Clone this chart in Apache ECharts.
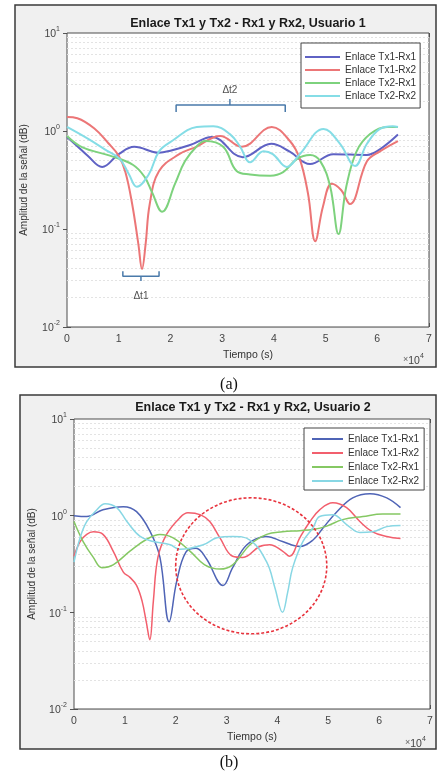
<!DOCTYPE html>
<html>
<head>
<meta charset="utf-8">
<script src="https://cdn.jsdelivr.net/npm/echarts@6/dist/echarts.min.js"></script>
<style>
html,body{margin:0;padding:0;background:#fff;}
#c{width:437px;height:774px;}
</style>
</head>
<body>
<div id="c"></div>
<script>
// ---------- DATA (time in units of 10^4 s, amplitude linear) ----------
const seriesNames = ['Enlace Tx1-Rx1', 'Enlace Tx1-Rx2', 'Enlace Tx2-Rx1', 'Enlace Tx2-Rx2'];
const titleA = 'Enlace Tx1 y Tx2 - Rx1 y Rx2, Usuario 1';
const titleB = 'Enlace Tx1 y Tx2 - Rx1 y Rx2, Usuario 2';
const xTicks = [0, 1, 2, 3, 4, 5, 6, 7];
const yTicks = [0.01, 0.1, 1, 10];

// Usuario 1
const a11_t = [0, 0.2, 0.4, 0.68, 1.0, 1.3, 1.78, 2.0, 2.38, 2.8, 3.4, 3.95, 4.3, 4.7, 5.15, 5.8, 6.05, 6.4];
const a11_v = [0.87, 0.70, 0.56, 0.43, 0.58, 0.69, 0.60, 0.63, 0.72, 0.87, 0.54, 0.74, 0.62, 0.46, 0.58, 0.57, 0.65, 0.92];
const a12_t = [0, 0.2, 0.54, 0.8, 1.0, 1.13, 1.26, 1.38, 1.45, 1.52, 1.6, 1.78, 2.17, 2.5, 2.96, 3.38, 3.96, 4.31, 4.5, 4.66, 4.8, 4.95, 5.12, 5.3, 5.47, 5.8, 6.05, 6.4];
const a12_v = [1.39, 1.35, 1.05, 0.75, 0.56, 0.38, 0.18, 0.07, 0.039, 0.07, 0.18, 0.39, 0.58, 0.69, 0.89, 0.69, 1.1, 0.79, 0.52, 0.23, 0.075, 0.17, 0.29, 0.25, 0.18, 0.49, 0.62, 0.79];
const a21_t = [0, 0.3, 0.83, 1.28, 1.5, 1.64, 1.84, 2.09, 2.28, 2.51, 2.67, 3.02, 3.28, 3.54, 3.93, 4.18, 4.45, 4.7, 4.9, 5.09, 5.25, 5.4, 5.6, 5.86, 6.19, 6.4];
const a21_v = [0.89, 0.68, 0.56, 0.45, 0.34, 0.24, 0.15, 0.29, 0.49, 0.70, 0.79, 0.69, 0.39, 0.36, 0.35, 0.38, 0.52, 0.57, 0.49, 0.27, 0.089, 0.27, 0.62, 0.93, 1.1, 1.1];
const a22_t = [0, 0.41, 0.73, 1.02, 1.2, 1.35, 1.58, 1.78, 2.03, 2.51, 2.83, 3.15, 3.35, 3.54, 3.8, 3.98, 4.25, 4.5, 4.96, 5.28, 5.57, 5.8, 6.05, 6.3, 6.4];
const a22_v = [1.1, 0.83, 0.65, 0.52, 0.36, 0.27, 0.36, 0.62, 0.79, 1.1, 1.12, 0.93, 0.69, 0.48, 0.62, 0.58, 0.43, 0.58, 1.05, 0.74, 0.44, 0.74, 1.05, 1.12, 1.1];

// Usuario 2
const b11_t = [0, 0.25, 0.57, 0.97, 1.23, 1.5, 1.69, 1.87, 2.02, 2.2, 2.4, 2.6, 2.93, 3.12, 3.4, 3.79, 4.1, 4.44, 4.7, 4.9, 5.17, 5.48, 5.82, 6.15, 6.42];
const b11_v = [1.0, 0.98, 1.15, 1.24, 1.1, 0.68, 0.37, 0.08, 0.21, 0.42, 0.46, 0.36, 0.19, 0.29, 0.5, 0.61, 0.54, 0.48, 0.56, 0.75, 1.1, 1.53, 1.69, 1.53, 1.21];
const b12_t = [0, 0.12, 0.25, 0.38, 0.57, 0.77, 0.97, 1.1, 1.23, 1.34, 1.42, 1.49, 1.56, 1.65, 1.82, 2.08, 2.24, 2.49, 2.67, 2.87, 3.12, 3.32, 3.65, 3.85, 4.1, 4.24, 4.44, 4.64, 4.83, 5.09, 5.36, 5.62, 5.87, 6.15, 6.42];
const b12_v = [0.38, 0.54, 0.64, 0.68, 0.64, 0.43, 0.26, 0.23, 0.19, 0.13, 0.08, 0.052, 0.13, 0.37, 0.64, 0.95, 1.07, 1.02, 0.87, 0.59, 0.38, 0.37, 0.48, 0.50, 0.43, 0.38, 0.59, 0.87, 1.15, 1.36, 1.21, 0.87, 0.68, 0.61, 0.58];
const b21_t = [0, 0.18, 0.38, 0.55, 0.77, 1.1, 1.43, 1.69, 1.95, 2.28, 2.57, 2.87, 3.12, 3.46, 3.79, 4.1, 4.44, 4.7, 4.97, 5.28, 5.68, 6.07, 6.42];
const b21_v = [0.87, 0.54, 0.37, 0.29, 0.31, 0.43, 0.57, 0.64, 0.59, 0.43, 0.31, 0.28, 0.31, 0.50, 0.64, 0.68, 0.70, 0.72, 0.78, 0.91, 0.98, 1.04, 1.04];
const b22_t = [0, 0.12, 0.25, 0.45, 0.61, 0.84, 1.04, 1.3, 1.56, 1.89, 2.08, 2.54, 2.81, 3.12, 3.46, 3.79, 3.95, 4.1, 4.2, 4.3, 4.5, 4.7, 4.83, 5.09, 5.36, 5.62, 5.87, 6.15, 6.42];
const b22_v = [0.33, 0.59, 0.87, 1.15, 1.33, 1.21, 0.87, 0.61, 0.54, 0.50, 0.45, 0.50, 0.59, 0.61, 0.56, 0.33, 0.18, 0.10, 0.16, 0.29, 0.54, 0.75, 0.98, 1.02, 0.81, 0.67, 0.68, 0.77, 0.79];

// Annotations (data units)
const dt2_t = [2.11, 3.15, 4.22];   const dt2_y = [1.56, 1.84, 2.12, 2.62];
const dt1_t = [1.08, 1.43, 1.78];   const dt1_y = [0.037, 0.033, 0.0295, 0.0205];
const ellipseT = [2.0, 4.97];       const ellipseY = [0.06, 1.53];

// ---------- helpers ----------
const zip = (t, v) => t.map((x, i) => [x * 1e4, v[i]]);
const colorsA = ['#5f62c4', '#ec7677', '#7dd27d', '#85dde6'];
const colorsB = ['#4f64b6', '#f25f6d', '#85c863', '#88d7e4'];
const dataA = [zip(a11_t, a11_v), zip(a12_t, a12_v), zip(a21_t, a21_v), zip(a22_t, a22_v)];
const dataB = [zip(b11_t, b11_v), zip(b12_t, b12_v), zip(b21_t, b21_v), zip(b22_t, b22_v)];
const FONT = '"Liberation Sans", Arial, Helvetica, sans-serif';

const minorVals = [];
[0.01, 0.1, 1].forEach(d => { for (let k = 2; k <= 9; k++) minorVals.push(+(d * k).toPrecision(3)); });

const chart = echarts.init(document.getElementById('c'), null, {renderer: 'canvas'});

function xAx(gi, top) {
  return {
    type: 'value', gridIndex: gi, min: 0, max: 70000, interval: 10000,
    position: top ? 'top' : 'bottom',
    axisLine: {show: false},
    axisTick: {show: true, inside: true, length: 4, lineStyle: {color: '#555'}},
    axisLabel: top ? {show: false} : {show: true, color: '#444', fontSize: 10.5, fontFamily: FONT, margin: 7,
      formatter: v => String(Math.round(v / 1e4))},
    splitLine: top ? {show: false} : {show: true, lineStyle: {color: '#dedede', width: 1}},
    name: top ? '' : 'Tiempo (s)', nameLocation: 'middle', nameGap: 23,
    nameTextStyle: {color: '#333', fontSize: 10.5, fontFamily: FONT}
  };
}
function yAx(gi, right, gap) {
  return {
    type: 'log', logBase: 10, gridIndex: gi, min: 0.01, max: 10, splitNumber: 3,
    position: right ? 'right' : 'left',
    axisLine: {show: false},
    axisTick: {show: true, inside: true, length: 4, lineStyle: {color: '#555'}},
    axisLabel: right ? {show: false} : {
      show: true, margin: 7, fontFamily: FONT,
      formatter: v => '{b|10}{s|' + Math.round(Math.log10(v)) + '}',
      rich: {b: {fontSize: 10.5, color: '#444', fontFamily: FONT, verticalAlign: 'bottom', lineHeight: 14},
             s: {fontSize: 7, color: '#444', fontFamily: FONT, verticalAlign: 'top', lineHeight: 14}}
    },
    splitLine: right ? {show: false} : {show: true, lineStyle: {color: '#dedede', width: 1}},
    name: right ? '' : 'Amplitud de la señal (dB)', nameLocation: 'middle', nameGap: gap, nameRotate: 90,
    nameTextStyle: {color: '#333', fontSize: 10, fontFamily: FONT}
  };
}

const series = [];
// minor grid lines
[0, 1].forEach(gi => {
  series.push({
    type: 'line', xAxisIndex: gi * 2, yAxisIndex: gi * 2, data: [], silent: true, z: 1,
    markLine: {silent: true, z: 1, symbol: 'none', label: {show: false}, animation: false,
      lineStyle: {color: '#e3e3e3', type: [2, 2], width: 1},
      data: minorVals.map(v => ({yAxis: v}))}
  });
});
dataA.forEach((d, i) => series.push({
  name: seriesNames[i], type: 'line', xAxisIndex: 0, yAxisIndex: 0, data: d,
  smooth: 0.4, showSymbol: false, symbol: 'none', z: 3,
  lineStyle: {color: colorsA[i], width: 2}, itemStyle: {color: colorsA[i]}
}));
dataB.forEach((d, i) => series.push({
  name: seriesNames[i] + ' ', type: 'line', xAxisIndex: 2, yAxisIndex: 2, data: d,
  smooth: 0.4, showSymbol: false, symbol: 'none', z: 3,
  lineStyle: {color: colorsB[i], width: 1.5}, itemStyle: {color: colorsB[i]}
}));
// brackets
const brColor = '#4a7aaa';
const brStyle = {color: brColor, width: 1.5};
series.push({type: 'line', xAxisIndex: 0, yAxisIndex: 0, symbol: 'none', z: 4, silent: true, lineStyle: brStyle,
  data: [[dt2_t[0]*1e4, dt2_y[0]], [dt2_t[0]*1e4, dt2_y[1]], [dt2_t[2]*1e4, dt2_y[1]], [dt2_t[2]*1e4, dt2_y[0]]]});
series.push({type: 'line', xAxisIndex: 0, yAxisIndex: 0, symbol: 'none', z: 4, silent: true, lineStyle: brStyle,
  data: [[dt2_t[1]*1e4, dt2_y[1]], [dt2_t[1]*1e4, dt2_y[2]]]});
series.push({type: 'line', xAxisIndex: 0, yAxisIndex: 0, symbol: 'none', z: 4, silent: true, lineStyle: brStyle,
  data: [[dt1_t[0]*1e4, dt1_y[0]], [dt1_t[0]*1e4, dt1_y[1]], [dt1_t[2]*1e4, dt1_y[1]], [dt1_t[2]*1e4, dt1_y[0]]]});
series.push({type: 'line', xAxisIndex: 0, yAxisIndex: 0, symbol: 'none', z: 4, silent: true, lineStyle: brStyle,
  data: [[dt1_t[1]*1e4, dt1_y[1]], [dt1_t[1]*1e4, dt1_y[2]]]});
series.push({type: 'scatter', xAxisIndex: 0, yAxisIndex: 0, symbolSize: 0, z: 5, silent: true,
  label: {show: true, position: 'inside', color: '#222', fontSize: 10, fontFamily: FONT, formatter: p => p.data[2]},
  data: [[dt2_t[1]*1e4, dt2_y[3], 'Δt2'], [dt1_t[1]*1e4, dt1_y[3], 'Δt1']]});

function legend(i, left, top, pad, iw, ih, gap, colors) {
  const names = seriesNames.map(n => i === 0 ? n : n + ' ');
  return {
    show: true, orient: 'vertical', left: left, top: top, padding: pad, z: 20,
    backgroundColor: '#fff', borderColor: '#444', borderWidth: 1, borderRadius: 0,
    itemWidth: iw, itemHeight: ih, itemGap: gap, icon: 'rect',
    data: names.map((n, k) => ({name: n, icon: 'rect', itemStyle: {color: colors[k], borderWidth: 0}})),
    formatter: n => n.trim(),
    textStyle: {fontSize: 10, color: '#333', fontFamily: FONT, lineHeight: 10, padding: [0, 0, 0, 0]},
    selectedMode: false
  };
}

const option = {
  animation: false,
  backgroundColor: '#fff',
  grid: [
    {left: 67, top: 33, width: 362, height: 294, show: true, backgroundColor: '#fff', borderColor: '#4d4d4d', borderWidth: 1, z: 1},
    {left: 74, top: 419, width: 356, height: 290, show: true, backgroundColor: '#fff', borderColor: '#4d4d4d', borderWidth: 1, z: 1}
  ],
  xAxis: [xAx(0, false), xAx(0, true), xAx(1, false), xAx(1, true)],
  yAxis: [yAx(0, false, 38), yAx(0, true, 0), yAx(1, false, 37), yAx(1, true, 0)],
  legend: [legend(0, 301, 43, [9, 4, 7, 4], 35, 2, 3, colorsA), legend(1, 304, 428, [6, 5, 4, 8], 31, 2, 4, colorsB)],
  series: series,
  graphic: [
    {id: 'frameA', type: 'rect', z: -10, shape: {x: 15, y: 5, width: 421, height: 362},
      style: {fill: '#f0f0f0', stroke: '#3a3a3a', lineWidth: 1.5}},
    {id: 'frameB', type: 'rect', z: -10, shape: {x: 20, y: 395, width: 416, height: 354},
      style: {fill: '#f0f0f0', stroke: '#3a3a3a', lineWidth: 1.5}},
    {id: 'tA', type: 'text', z: 10, style: {text: titleA, x: 248, y: 24, textAlign: 'center', textVerticalAlign: 'middle',
      font: 'bold 12.5px ' + FONT, fill: '#1a1a1a'}},
    {id: 'tB', type: 'text', z: 10, style: {text: titleB, x: 253, y: 408, textAlign: 'center', textVerticalAlign: 'middle',
      font: 'bold 12.5px ' + FONT, fill: '#1a1a1a'}},
    {id: 'labA', type: 'text', z: 10, style: {text: '(a)', x: 229, y: 385, textAlign: 'center', textVerticalAlign: 'middle',
      font: '16px "Liberation Serif", "Times New Roman", serif', fill: '#111'}},
    {id: 'labB', type: 'text', z: 10, style: {text: '(b)', x: 229, y: 763, textAlign: 'center', textVerticalAlign: 'middle',
      font: '16px "Liberation Serif", "Times New Roman", serif', fill: '#111'}},
    {id: 'expA', type: 'text', z: 10, style: {text: '{m|×}{b|10}{s|4}', x: 403, y: 360, textVerticalAlign: 'middle',
      rich: {m: {fontSize: 9, fill: '#666', fontFamily: FONT}, b: {fontSize: 10.5, fill: '#444', fontFamily: FONT, verticalAlign: 'bottom', lineHeight: 14},
             s: {fontSize: 7, fill: '#444', fontFamily: FONT, verticalAlign: 'top', lineHeight: 14}}}},
    {id: 'expB', type: 'text', z: 10, style: {text: '{m|×}{b|10}{s|4}', x: 405, y: 743, textVerticalAlign: 'middle',
      rich: {m: {fontSize: 9, fill: '#666', fontFamily: FONT}, b: {fontSize: 10.5, fill: '#444', fontFamily: FONT, verticalAlign: 'bottom', lineHeight: 14},
             s: {fontSize: 7, fill: '#444', fontFamily: FONT, verticalAlign: 'top', lineHeight: 14}}}}
  ]
};
chart.setOption(option);

// dashed ellipse annotation in panel (b), placed through the axes
const p1 = chart.convertToPixel({xAxisIndex: 2, yAxisIndex: 2}, [ellipseT[0] * 1e4, ellipseY[0]]);
const p2 = chart.convertToPixel({xAxisIndex: 2, yAxisIndex: 2}, [ellipseT[1] * 1e4, ellipseY[1]]);
chart.setOption({graphic: [{id: 'ell', type: 'ellipse', z: 20,
  shape: {cx: (p1[0] + p2[0]) / 2, cy: (p1[1] + p2[1]) / 2, rx: Math.abs(p2[0] - p1[0]) / 2, ry: Math.abs(p2[1] - p1[1]) / 2},
  style: {fill: 'none', stroke: '#e8333d', lineWidth: 1.6, lineDash: [3, 2]}}]});
</script>
</body>
</html>
